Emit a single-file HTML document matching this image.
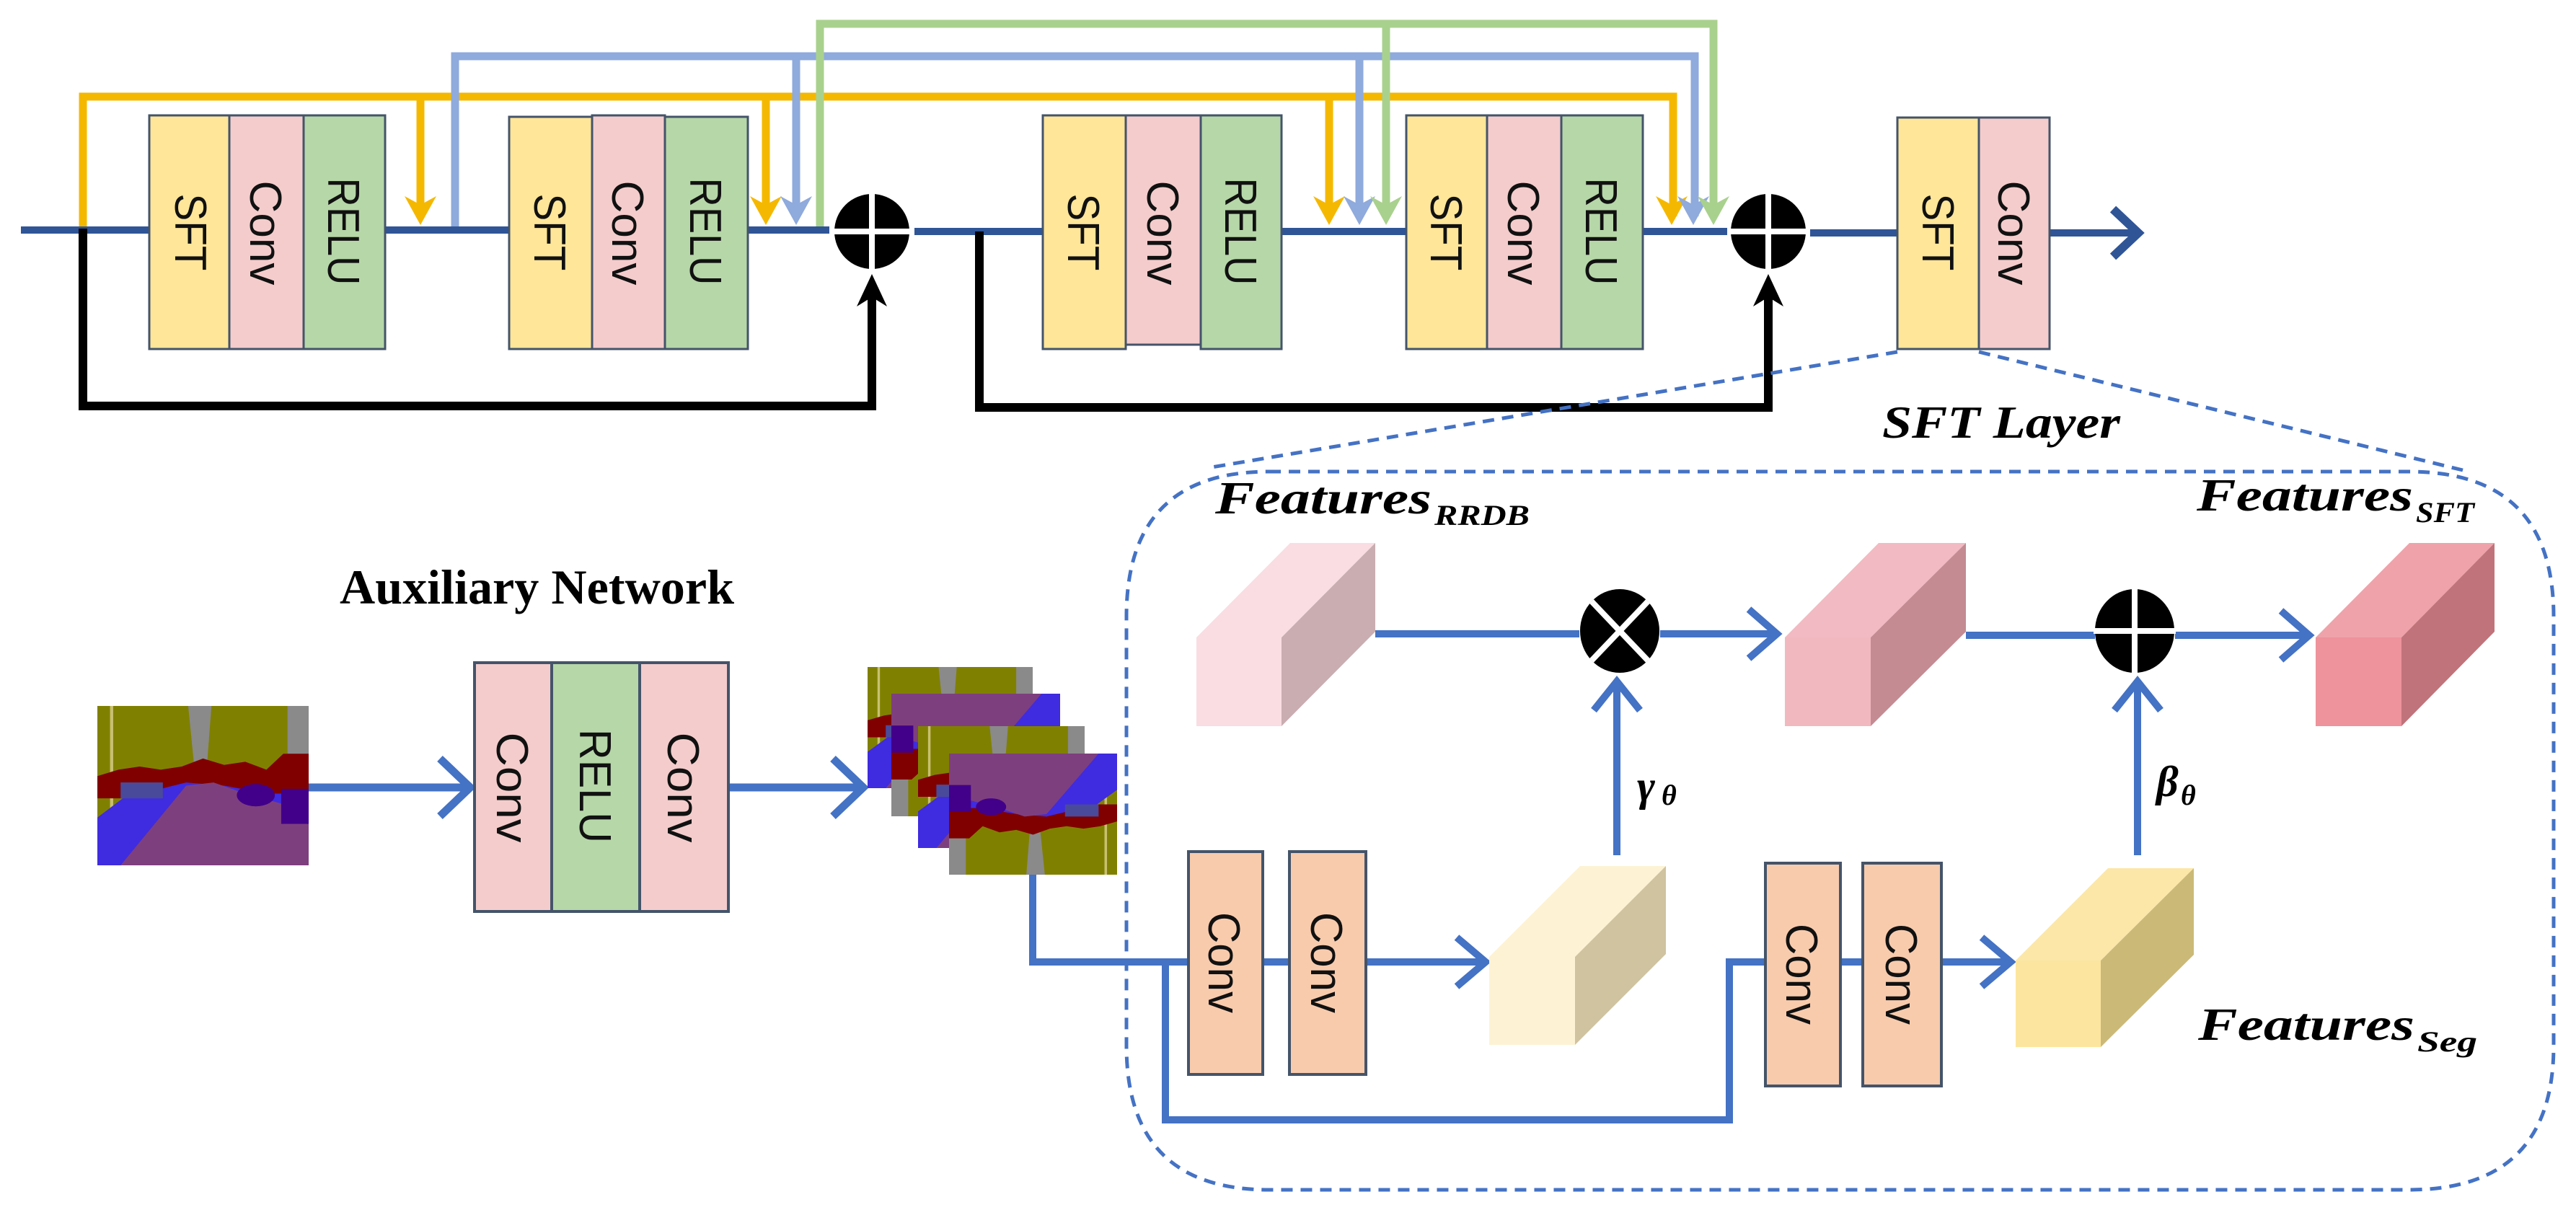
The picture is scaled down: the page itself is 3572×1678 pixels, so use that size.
<!DOCTYPE html>
<html><head><meta charset="utf-8"><style>
html,body{margin:0;padding:0;background:#fff;width:3572px;height:1678px;overflow:hidden}
svg{display:block}
.bt{font-family:"Liberation Sans",sans-serif;font-size:62px;fill:#111}
.it{font-family:"Liberation Serif",serif;font-style:italic;font-weight:bold;fill:#000}
</style></head><body>
<svg width="3572" height="1678" viewBox="0 0 3572 1678" xmlns="http://www.w3.org/2000/svg">
<defs>
<symbol id="seg" viewBox="0 0 100 100" preserveAspectRatio="none">
<rect x="0" y="0" width="100" height="100" fill="#808000"/>
<polygon points="43,0 54,0 52,35 46,40" fill="#8a8a8a"/>
<polygon points="90,0 100,0 100,32 90,30" fill="#8a8a8a"/>
<rect x="6" y="0" width="1.5" height="70" fill="#c8c070"/>
<polygon points="0,44 10,40 20,38 30,40 40,38 50,33 60,37 70,35 80,40 88,30 100,30 100,58 0,58" fill="#800000"/>
<polygon points="0,70 12,58 42,48 60,50 80,55 100,55 100,100 0,100" fill="#3f2be0"/>
<polygon points="42,50 55,48 70,55 100,66 100,100 11,100" fill="#7e3f7e"/>
<ellipse cx="75" cy="56" rx="9" ry="7" fill="#42008a"/>
<rect x="87" y="52" width="13" height="22" fill="#42008a"/>
<rect x="11" y="48" width="20" height="10" fill="#4a4a9a"/>
</symbol>
</defs>

<g fill="none" stroke-width="11">
<polyline points="115,317 115,134 2320,134 2320,300" stroke="#f5b800"/>
<line x1="583" y1="134" x2="583" y2="300" stroke="#f5b800"/>
<line x1="1062" y1="134" x2="1062" y2="300" stroke="#f5b800"/>
<line x1="1843" y1="134" x2="1843" y2="300" stroke="#f5b800"/>
<polyline points="631,317 631,78 2350,78 2350,300" stroke="#8faadc"/>
<line x1="1104" y1="78" x2="1104" y2="300" stroke="#8faadc"/>
<line x1="1885" y1="78" x2="1885" y2="300" stroke="#8faadc"/>
<polyline points="1137,317 1137,33 2376,33 2376,300" stroke="#a9d18e"/>
<line x1="1922" y1="33" x2="1922" y2="300" stroke="#a9d18e"/>
</g>
<g>
<polygon points="583,312 561,272 583,284 605,272" fill="#f5b800"/>
<polygon points="1062,312 1040,272 1062,284 1084,272" fill="#f5b800"/>
<polygon points="1843,312 1821,272 1843,284 1865,272" fill="#f5b800"/>
<polygon points="2318,312 2296,272 2318,284 2340,272" fill="#f5b800"/>
<polygon points="1104,312 1082,272 1104,284 1126,272" fill="#8faadc"/>
<polygon points="1885,312 1863,272 1885,284 1907,272" fill="#8faadc"/>
<polygon points="2348,312 2326,272 2348,284 2370,272" fill="#8faadc"/>
<polygon points="1922,312 1900,272 1922,284 1944,272" fill="#a9d18e"/>
<polygon points="2376,312 2354,272 2376,284 2398,272" fill="#a9d18e"/>
</g>

<g stroke="#2f5597" stroke-width="10" fill="none">
<line x1="29" y1="319" x2="1150" y2="319"/>
<line x1="1268" y1="321" x2="2395" y2="321"/>
<line x1="2510" y1="323" x2="2960" y2="323"/>
<polyline points="2930,290 2965,323 2930,356" stroke-width="12"/>
</g>

<g stroke="#000" stroke-width="12" fill="none">
<polyline points="115,317 115,563 1209,563 1209,395"/>
<polyline points="1358,321 1358,565 2452,565 2452,395"/>
</g>
<polygon points="1209,380 1188,425 1209,412 1230,425" fill="#000"/>
<polygon points="2452,380 2431,425 2452,412 2473,425" fill="#000"/>

<g>
<circle cx="1209" cy="321" r="52" fill="#000"/>
<line x1="1209" y1="266" x2="1209" y2="376" stroke="#fff" stroke-width="8"/>
<line x1="1154" y1="321" x2="1264" y2="321" stroke="#fff" stroke-width="8"/>
<circle cx="2452" cy="321" r="52" fill="#000"/>
<line x1="2452" y1="266" x2="2452" y2="376" stroke="#fff" stroke-width="8"/>
<line x1="2397" y1="321" x2="2507" y2="321" stroke="#fff" stroke-width="8"/>
</g>

<g stroke="#44546a" stroke-width="3">
<rect x="207" y="160" width="111" height="324" fill="#ffe699"/>
<rect x="318" y="160" width="103" height="324" fill="#f4cccc"/>
<rect x="421" y="160" width="113" height="324" fill="#b6d7a8"/>
<rect x="706" y="162" width="115" height="322" fill="#ffe699"/>
<rect x="821" y="160" width="101" height="324" fill="#f4cccc"/>
<rect x="922" y="162" width="115" height="322" fill="#b6d7a8"/>
<rect x="1446" y="160" width="115" height="324" fill="#ffe699"/>
<rect x="1561" y="160" width="104" height="318" fill="#f4cccc"/>
<rect x="1665" y="160" width="112" height="324" fill="#b6d7a8"/>
<rect x="1950" y="160" width="112" height="324" fill="#ffe699"/>
<rect x="2062" y="160" width="103" height="324" fill="#f4cccc"/>
<rect x="2165" y="160" width="113" height="324" fill="#b6d7a8"/>
<rect x="2631" y="163" width="113" height="321" fill="#ffe699"/>
<rect x="2744" y="163" width="98" height="321" fill="#f4cccc"/>
</g>
<g class="bt">
<text transform="translate(243,322) rotate(90)" text-anchor="middle" textLength="107" lengthAdjust="spacingAndGlyphs">SFT</text>
<text transform="translate(347,323) rotate(90)" text-anchor="middle" textLength="145" lengthAdjust="spacingAndGlyphs">Conv</text>
<text transform="translate(455,321) rotate(90)" text-anchor="middle" textLength="149" lengthAdjust="spacingAndGlyphs">RELU</text>
<text transform="translate(741,322) rotate(90)" text-anchor="middle" textLength="107" lengthAdjust="spacingAndGlyphs">SFT</text>
<text transform="translate(849,323) rotate(90)" text-anchor="middle" textLength="145" lengthAdjust="spacingAndGlyphs">Conv</text>
<text transform="translate(957,321) rotate(90)" text-anchor="middle" textLength="149" lengthAdjust="spacingAndGlyphs">RELU</text>
<text transform="translate(1481,322) rotate(90)" text-anchor="middle" textLength="107" lengthAdjust="spacingAndGlyphs">SFT</text>
<text transform="translate(1591,323) rotate(90)" text-anchor="middle" textLength="145" lengthAdjust="spacingAndGlyphs">Conv</text>
<text transform="translate(1699,321) rotate(90)" text-anchor="middle" textLength="149" lengthAdjust="spacingAndGlyphs">RELU</text>
<text transform="translate(1984,322) rotate(90)" text-anchor="middle" textLength="107" lengthAdjust="spacingAndGlyphs">SFT</text>
<text transform="translate(2091,323) rotate(90)" text-anchor="middle" textLength="145" lengthAdjust="spacingAndGlyphs">Conv</text>
<text transform="translate(2199,321) rotate(90)" text-anchor="middle" textLength="149" lengthAdjust="spacingAndGlyphs">RELU</text>
<text transform="translate(2666,322) rotate(90)" text-anchor="middle" textLength="107" lengthAdjust="spacingAndGlyphs">SFT</text>
<text transform="translate(2771,323) rotate(90)" text-anchor="middle" textLength="145" lengthAdjust="spacingAndGlyphs">Conv</text>
</g>

<g fill="none" stroke="#4472c4" stroke-width="5" stroke-dasharray="16,11">
<line x1="2631" y1="488" x2="1680" y2="648"/>
<line x1="2744" y1="488" x2="3415" y2="652"/>
<path d="M1760,654 L3340,654 Q3541,654 3541,855 L3541,1450 Q3541,1650 3340,1650 L1760,1650 Q1562,1650 1562,1450 L1562,855 Q1562,654 1760,654 Z"/>
</g>
<text class="it" x="2610" y="607" font-size="64" textLength="330" lengthAdjust="spacingAndGlyphs">SFT Layer</text>

<text x="471" y="837" font-family="Liberation Serif,serif" font-weight="bold" font-size="68" textLength="547" lengthAdjust="spacingAndGlyphs">Auxiliary Network</text>
<use href="#seg" x="135" y="979" width="293" height="221"/>
<g stroke="#4472c4" stroke-width="11" fill="none">
<line x1="428" y1="1092" x2="650" y2="1092"/>
<polyline points="610,1052 652,1092 610,1132"/>
<line x1="1012" y1="1092" x2="1195" y2="1092"/>
<polyline points="1155,1052 1197,1092 1155,1132"/>
</g>
<g stroke="#44546a" stroke-width="4">
<rect x="658" y="919" width="107" height="345" fill="#f4cccc"/>
<rect x="765" y="919" width="122" height="345" fill="#b6d7a8"/>
<rect x="887" y="919" width="123" height="345" fill="#f4cccc"/>
</g>
<g class="bt">
<text transform="translate(689,1092) rotate(90)" text-anchor="middle" textLength="153" lengthAdjust="spacingAndGlyphs">Conv</text>
<text transform="translate(804,1090) rotate(90)" text-anchor="middle" textLength="158" lengthAdjust="spacingAndGlyphs">RELU</text>
<text transform="translate(926,1092) rotate(90)" text-anchor="middle" textLength="153" lengthAdjust="spacingAndGlyphs">Conv</text>
</g>
<use href="#seg" x="1203" y="925" width="229" height="168"/>
<g transform="translate(1470,1132) scale(-1,-1)"><use href="#seg" x="0" y="0" width="234" height="170"/></g>
<use href="#seg" x="1273" y="1007" width="231" height="169"/>
<g transform="translate(1549,1213) scale(-1,-1)"><use href="#seg" x="0" y="0" width="233" height="168"/></g>

<g stroke="#4472c4" stroke-width="10" fill="none">
<polyline points="1432,1213 1432,1334 2055,1334"/>
<polyline points="2020,1300 2060,1334 2020,1368"/>
<polyline points="1616,1334 1616,1553 2398,1553 2398,1334 2782,1334"/>
<polyline points="2748,1300 2788,1334 2748,1368"/>
<line x1="1907" y1="879" x2="2190" y2="879"/>
<line x1="2302" y1="879" x2="2460" y2="879"/>
<polyline points="2425,845 2464,879 2425,913"/>
<line x1="2726" y1="881" x2="2905" y2="881"/>
<line x1="3016" y1="881" x2="3198" y2="881"/>
<polyline points="3163,847 3202,881 3163,915"/>
<line x1="2242" y1="1186" x2="2242" y2="945"/>
<polyline points="2210,985 2242,945 2274,985"/>
<line x1="2964" y1="1186" x2="2964" y2="945"/>
<polyline points="2932,985 2964,945 2996,985"/>
</g>
<g stroke="#44546a" stroke-width="4" fill="#f8cbad">
<rect x="1648" y="1181" width="103" height="309"/>
<rect x="1788" y="1181" width="106" height="309"/>
<rect x="2448" y="1197" width="104" height="309"/>
<rect x="2583" y="1197" width="109" height="309"/>
</g>
<g class="bt">
<text transform="translate(1676,1335) rotate(90)" text-anchor="middle" textLength="140" lengthAdjust="spacingAndGlyphs">Conv</text>
<text transform="translate(1818,1335) rotate(90)" text-anchor="middle" textLength="140" lengthAdjust="spacingAndGlyphs">Conv</text>
<text transform="translate(2477,1351) rotate(90)" text-anchor="middle" textLength="140" lengthAdjust="spacingAndGlyphs">Conv</text>
<text transform="translate(2615,1351) rotate(90)" text-anchor="middle" textLength="140" lengthAdjust="spacingAndGlyphs">Conv</text>
</g>

<g>
<polygon points="1659,884 1789,753 1907,753 1777,884" fill="#f9dde2"/>
<rect x="1659" y="884" width="118" height="123" fill="#f9dde2"/>
<polygon points="1777,884 1907,753 1907,876 1777,1007" fill="#c9adb1"/>
<polygon points="2475,884 2605,753 2726,753 2594,884" fill="#f2bac2"/>
<rect x="2475" y="884" width="119" height="123" fill="#f2b8c0"/>
<polygon points="2594,884 2726,753 2726,876 2594,1007" fill="#c48b93"/>
<polygon points="3211,884 3341,753 3459,753 3330,884" fill="#efa2aa"/>
<rect x="3211" y="884" width="119" height="123" fill="#ee929b"/>
<polygon points="3330,884 3459,753 3459,876 3330,1007" fill="#c0737a"/>
<polygon points="2065,1327 2191,1201 2310,1201 2184,1327" fill="#fdf2d3"/>
<rect x="2065" y="1327" width="119" height="122" fill="#fdf2d3"/>
<polygon points="2184,1327 2310,1201 2310,1323 2184,1449" fill="#cfc3a0"/>
<polygon points="2795,1332 2923,1204 3042,1204 2913,1332" fill="#fce7a8"/>
<rect x="2795" y="1332" width="118" height="120" fill="#fce59e"/>
<polygon points="2913,1332 3042,1204 3042,1324 2913,1452" fill="#cbb978"/>
</g>

<ellipse cx="2246" cy="875" rx="55" ry="58" fill="#000"/>
<line x1="2207" y1="834" x2="2285" y2="916" stroke="#fff" stroke-width="8"/>
<line x1="2285" y1="834" x2="2207" y2="916" stroke="#fff" stroke-width="8"/>
<ellipse cx="2960" cy="875" rx="55" ry="58" fill="#000"/>
<line x1="2960" y1="815" x2="2960" y2="935" stroke="#fff" stroke-width="8"/>
<line x1="2903" y1="875" x2="3017" y2="875" stroke="#fff" stroke-width="8"/>

<text class="it" x="1685" y="712" font-size="64" textLength="300" lengthAdjust="spacingAndGlyphs">Features</text>
<text class="it" x="1989" y="728" font-size="40" textLength="132" lengthAdjust="spacingAndGlyphs">RRDB</text>
<text class="it" x="3046" y="708" font-size="64" textLength="300" lengthAdjust="spacingAndGlyphs">Features</text>
<text class="it" x="3350" y="724" font-size="40" textLength="81" lengthAdjust="spacingAndGlyphs">SFT</text>
<text class="it" x="3048" y="1442" font-size="64" textLength="300" lengthAdjust="spacingAndGlyphs">Features</text>
<text class="it" x="3352" y="1458" font-size="40" textLength="83" lengthAdjust="spacingAndGlyphs">Seg</text>
<text class="it" x="2270" y="1110" font-size="60">γ</text>
<text class="it" x="2304" y="1116" font-size="40">θ</text>
<text class="it" x="2990" y="1104" font-size="60">β</text>
<text class="it" x="3024" y="1116" font-size="40">θ</text>
</svg>
</body></html>
